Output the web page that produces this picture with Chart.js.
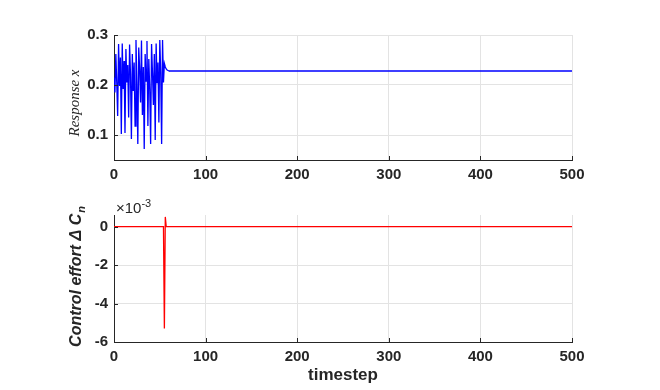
<!DOCTYPE html>
<html>
<head>
<meta charset="utf-8">
<script src="https://cdn.jsdelivr.net/npm/chart.js@4"></script>
<style>
html,body{margin:0;padding:0;background:#fff;}
#wrap{position:relative;width:660px;height:390px;}
canvas{position:absolute;left:0;}
</style>
</head>
<body>
<div id="wrap">
<canvas id="top" width="660" height="195" style="top:0;width:660px;height:195px"></canvas>
<canvas id="bot" width="660" height="195" style="top:195px;width:660px;height:195px"></canvas>
</div>
<script>
// ---- data ----
const xTicks = [0, 100, 200, 300, 400, 500];
const responseTicks = [0.1, 0.2, 0.3];
const controlTicks = [-6, -4, -2, 0];

// response x for timesteps 0..60, then settled value at 500
const responseX = [0.215,0.185,0.262,0.205,0.138,0.282,0.198,0.255,0.102,0.283,
  0.192,0.248,0.104,0.272,0.205,0.240,0.135,0.281,0.222,0.092,
  0.262,0.188,0.245,0.118,0.290,0.200,0.082,0.275,0.232,0.165,
  0.289,0.140,0.236,0.072,0.262,0.208,0.288,0.118,0.252,0.192,
  0.082,0.282,0.225,0.160,0.262,0.090,0.283,0.205,0.245,0.125,
  0.290,0.225,0.082,0.290,0.205,0.243,0.236,0.232,0.230,0.229,0.228,
  0.228];
const responseT = responseX.map((v, i) => i < responseX.length - 1 ? i : 500);

// control effort (x 1e-3)
const controlT = [0, 54, 55, 56, 57, 500];
const controlV = [0, 0, -5.3, 0.5, 0, 0];

// ---- styling helpers ----
const AX = '#262626';
const GRID = '#e3e3e3';
const tickFont = {family: 'Liberation Sans', size: 15, weight: 'bold'};

function inwardTicks(xt, yt) {
  return {
    id: 'inward',
    afterDraw(chart) {
      const c = chart.ctx, a = chart.chartArea;
      const xs = chart.scales.x, ys = chart.scales.y;
      c.save();
      c.strokeStyle = AX; c.lineWidth = 1;
      c.beginPath();
      xt.forEach(v => { const p = Math.round(xs.getPixelForValue(v)) + 0.5; c.moveTo(p, a.bottom); c.lineTo(p, a.bottom - 4); });
      yt.forEach(v => { const p = Math.round(ys.getPixelForValue(v)) + 0.5; c.moveTo(a.left, p); c.lineTo(a.left + 4, p); });
      c.stroke();
      c.restore();
    }
  };
}

function makeOptions(yMin, yMax, yTicks, fmt, bottomH, padTop) {
  return {
    responsive: false,
    animation: false,
    events: [],
    layout: {padding: {top: padTop, right: 88, left: 0, bottom: 0}},
    plugins: {legend: {display: false}, tooltip: {enabled: false}},
    scales: {
      x: {
        type: 'linear', min: 0, max: 500,
        afterBuildTicks: s => { s.ticks = xTicks.map(v => ({value: v})); },
        afterFit: s => { s.height = bottomH; },
        grid: {color: GRID, lineWidth: 1, drawTicks: false},
        border: {display: true, color: AX, width: 1},
        ticks: {font: tickFont, color: AX, padding: 6, maxRotation: 0, callback: v => String(v)}
      },
      y: {
        type: 'linear', min: yMin, max: yMax,
        afterBuildTicks: s => { s.ticks = yTicks.map(v => ({value: v})); },
        afterFit: s => { s.width = 114; },
        grid: {color: GRID, lineWidth: 1, drawTicks: false},
        border: {display: true, color: AX, width: 1},
        ticks: {font: tickFont, color: AX, padding: 6, callback: fmt}
      }
    }
  };
}

// ---- top chart ----
const topOpts = makeOptions(0.05, 0.3, responseTicks, v => v.toFixed(1), 35, 35);
new Chart(document.getElementById('top'), {
  type: 'line',
  data: {datasets: [{
    data: responseT.map((t, i) => ({x: t, y: responseX[i]})),
    borderColor: '#0000ff', borderWidth: 1.3, pointRadius: 0, tension: 0, fill: false
  }]},
  options: topOpts,
  plugins: [inwardTicks(xTicks, responseTicks), {
    id: 'lab1',
    afterDraw(chart) {
      const c = chart.ctx;
      c.save();
      c.fillStyle = AX;
      c.font = 'italic 15px "Liberation Serif"';
      c.translate(79, 103);
      c.rotate(-Math.PI / 2);
      c.textAlign = 'center';
      c.textBaseline = 'alphabetic';
      c.fillText('Response x', 0, 0);
      c.restore();
    }
  }]
});

// ---- bottom chart ----
const botOpts = makeOptions(-6, 0.6, controlTicks, v => String(v), 48, 20);
new Chart(document.getElementById('bot'), {
  type: 'line',
  data: {datasets: [{
    data: controlT.map((t, i) => ({x: t, y: controlV[i]})),
    borderColor: '#ff0000', borderWidth: 1.3, pointRadius: 0, tension: 0, fill: false
  }]},
  options: botOpts,
  plugins: [inwardTicks(xTicks, controlTicks), {
    id: 'lab2',
    afterDraw(chart) {
      const c = chart.ctx;
      // y label
      c.save();
      c.fillStyle = AX;
      const main = 'Control effort \u0394 C';
      c.font = 'italic bold 16px "Liberation Sans"';
      const w1 = c.measureText(main).width;
      c.font = 'italic bold 11px "Liberation Sans"';
      const w2 = c.measureText('n').width;
      const W = w1 + w2;
      c.translate(81, 82);
      c.rotate(-Math.PI / 2);
      c.textBaseline = 'alphabetic';
      c.textAlign = 'left';
      c.font = 'italic bold 16px "Liberation Sans"';
      c.fillText(main, -W / 2, 0);
      c.font = 'italic bold 11px "Liberation Sans"';
      c.fillText('n', -W / 2 + w1 + 1, 4);
      c.restore();
      // exponent
      c.save();
      c.fillStyle = AX;
      c.textBaseline = 'alphabetic';
      c.textAlign = 'left';
      c.font = '15px "Liberation Sans"';
      c.fillText('\u00d710', 116, 18);
      const wx = c.measureText('\u00d710').width;
      c.font = '11px "Liberation Sans"';
      c.fillText('-3', 116 + wx, 12);
      c.restore();
      // x label
      c.save();
      c.fillStyle = AX;
      c.font = 'bold 17px "Liberation Sans"';
      c.textAlign = 'center';
      c.textBaseline = 'middle';
      c.fillText('timestep', 343, 180);
      c.restore();
    }
  }]
});
</script>
</body>
</html>
